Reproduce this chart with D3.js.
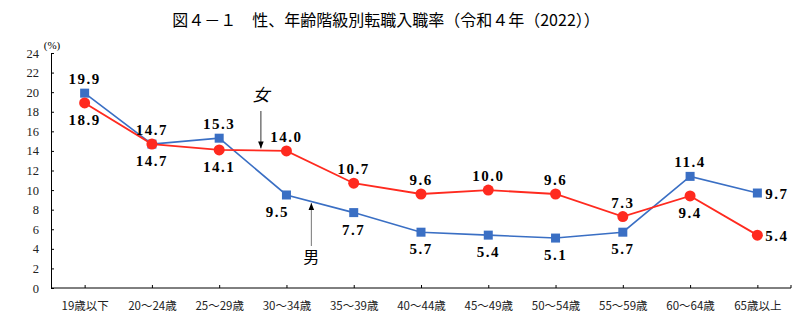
<!DOCTYPE html>
<html>
<head>
<meta charset="utf-8">
<script src="https://cdn.jsdelivr.net/npm/d3@7"></script>
<style>
  body { margin: 0; background: #fff; }
  text { font-family: "Liberation Serif", "Noto Sans CJK JP", serif; }
  .jp { font-family: "Noto Sans CJK JP", sans-serif; }
</style>
</head>
<body>
<div id="chart"></div>
<script>
const W = 808, H = 323;

// age groups and rates (%)
const ages = ["19歳以下", "20～24歳", "25～29歳", "30～34歳", "35～39歳", "40～44歳",
              "45～49歳", "50～54歳", "55～59歳", "60～64歳", "65歳以上"];
const male   = [19.9, 14.7, 15.3, 9.5, 7.7, 5.7, 5.4, 5.1, 5.7, 11.4, 9.7];
const female = [18.9, 14.7, 14.1, 14.0, 10.7, 9.6, 10.0, 9.6, 7.3, 9.4, 5.4];
const yTicks = d3.range(0, 25, 2);

// where each value label sits relative to its marker
const malePos   = ["up", "up", "up", "downleft", "down", "down", "down", "down", "down", "up", "right"];
const femalePos = ["down", "down", "down", "up", "up", "up", "up", "up", "up", "down", "right"];

const svg = d3.select("#chart").append("svg")
    .attr("width", W)
    .attr("height", H);

const x = d3.scalePoint().domain(ages).range([51, 791]).padding(0.5);
const y = d3.scaleLinear().domain([0, 24]).range([288, 53]);

// title
svg.append("text")
    .attr("class", "jp")
    .attr("x", 386)
    .attr("y", 26)
    .attr("text-anchor", "middle")
    .style("font-size", "16px")
    .text("図４－１　性、年齢階級別転職入職率（令和４年（2022））");

// y axis
const yAxis = svg.append("g")
    .attr("transform", "translate(51,0)")
    .call(d3.axisLeft(y).tickValues(yTicks).tickSize(-3).tickPadding(12));
yAxis.selectAll("text").style("font-size", "12.5px").attr("fill", "#222");
yAxis.select(".domain").attr("stroke", "#000");

svg.append("text")
    .attr("x", 52)
    .attr("y", 49)
    .attr("text-anchor", "middle")
    .style("font-size", "11px")
    .text("(%)");

// x axis
const xAxis = svg.append("g")
    .attr("transform", "translate(0,288)")
    .call(d3.axisBottom(x).tickSize(-3).tickSizeOuter(0).tickPadding(12));
xAxis.select(".domain").attr("d", "M51,0H791V-3").attr("stroke", "#000");
xAxis.selectAll("text")
    .attr("class", "jp")
    .attr("dy", "0.9em")
    .style("font-size", "11.5px")
    .attr("fill", "#222");

const line = d3.line()
    .x((d, i) => x(ages[i]))
    .y(d => y(d));

const blue = "#3a6fc4", red = "#ff2a1f";

svg.append("path").datum(male)
    .attr("d", line).attr("fill", "none")
    .attr("stroke", blue).attr("stroke-width", 1.6);

svg.append("path").datum(female)
    .attr("d", line).attr("fill", "none")
    .attr("stroke", red).attr("stroke-width", 1.8);

svg.selectAll(".sq").data(male).enter().append("rect")
    .attr("x", (d, i) => x(ages[i]) - 4.5)
    .attr("y", d => y(d) - 4.5)
    .attr("width", 9).attr("height", 9)
    .attr("fill", blue);

svg.selectAll(".dot").data(female).enter().append("circle")
    .attr("cx", (d, i) => x(ages[i]))
    .attr("cy", d => y(d))
    .attr("r", 5.5)
    .attr("fill", red);

function addLabels(vals, pos) {
  svg.append("g").selectAll("text").data(vals).enter().append("text")
    .attr("x", (d, i) => {
      const cx = x(ages[i]);
      if (pos[i] === "right") return cx + 8;
      if (pos[i] === "downleft") return cx - 9;
      return cx;
    })
    .attr("y", (d, i) => {
      const cy = y(d);
      if (pos[i] === "up") return cy - 9;
      if (pos[i] === "right") return cy + 6;
      return cy + 22;
    })
    .attr("text-anchor", (d, i) => pos[i] === "right" ? "start" : "middle")
    .style("font-size", "15px")
    .style("font-weight", "bold")
    .style("letter-spacing", "1.5px")
    .text(d => d.toFixed(1));
}
addLabels(male, malePos);
addLabels(female, femalePos);

// arrows pointing at each series
const defs = svg.append("defs");
defs.append("marker")
    .attr("id", "head")
    .attr("viewBox", "0 0 10 10")
    .attr("refX", 10).attr("refY", 5)
    .attr("markerWidth", 7).attr("markerHeight", 7)
    .attr("orient", "auto-start-reverse")
    .append("path").attr("d", "M0,1L10,5L0,9Z").attr("fill", "#000");

const step = x.step();
const fx = x(ages[2]) + step * 0.62;
svg.append("line")
    .attr("x1", fx).attr("x2", fx)
    .attr("y1", 111).attr("y2", y(14.05) - 2)
    .attr("stroke", "#333").attr("stroke-width", 1)
    .attr("marker-end", "url(#head)");
svg.append("text")
    .attr("x", fx).attr("y", 101)
    .attr("text-anchor", "middle")
    .style("font-size", "17px")
    .style("font-style", "italic")
    .text("女");

const mx = x(ages[3]) + step * 0.37;
svg.append("line")
    .attr("x1", mx).attr("x2", mx)
    .attr("y1", 246).attr("y2", 203)
    .attr("stroke", "#777").attr("stroke-width", 1)
    .attr("marker-end", "url(#head)");
svg.append("text")
    .attr("x", mx).attr("y", 263)
    .attr("text-anchor", "middle")
    .style("font-size", "16px")
    .text("男");
</script>
</body>
</html>
